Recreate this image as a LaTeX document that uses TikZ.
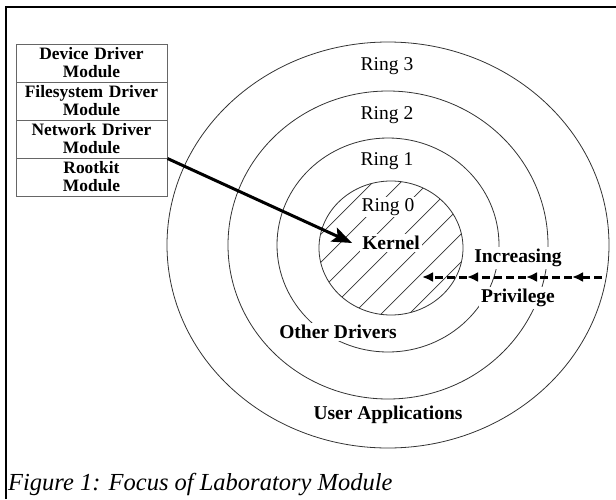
\documentclass[tikz,border=0pt]{standalone}
\usepackage{fontspec}
\setmainfont{Liberation Serif}
\usetikzlibrary{arrows.meta}

\begin{document}
\begin{tikzpicture}[x=1pt,y=-1pt,
  ring/.style={draw=black!80, line width=0.8pt},
  ringlabel/.style={font=\fontsize{19.5}{22}\selectfont, inner sep=1pt},
  boldlabel/.style={font=\fontsize{19.5}{22}\selectfont\bfseries, fill=white, inner sep=2pt},
  modbox/.style={draw=black!60, line width=1pt, minimum width=151pt, minimum height=38pt,
    text width=151pt, inner sep=0pt, align=center, font=\fontsize{17.4}{18}\selectfont\bfseries},
  frame/.style={line width=2.5pt},
  hatch/.style={draw=black!80, line width=0.7pt},
  bigarrow/.style={line width=3pt, -{Stealth[length=20pt,width=15pt,inset=4pt]}},
  privarrow/.style={line width=3pt, dash pattern=on 8pt off 4pt, -{Latex[length=11pt,width=10pt]}}
]
\useasboundingbox (0,0) rectangle (616,499);

% outer frame (top and left edges)
\draw[frame] (6,499) -- (6,7) -- (616,7);

% protection rings
\draw[ring] (388,245) ellipse [x radius=221pt, y radius=203pt];
\draw[ring] (388,245) ellipse [x radius=160pt, y radius=154pt];
\draw[ring] (388,245) ellipse [x radius=111pt, y radius=107pt];

% hatched kernel ring
\begin{scope}
  \clip (391,248) ellipse [x radius=72pt, y radius=67pt];
  \foreach \k in {-7,...,7}
    \draw[hatch] (391+\k*28-100, 348) -- ++(200,-200);
\end{scope}
\draw[ring] (391,248) ellipse [x radius=72pt, y radius=67pt];

% ring labels
\node[ringlabel] (r3) at (387,66) {Ring 3};
\node[ringlabel] (r2) at (387,115) {Ring 2};
\node[ringlabel] (r1) at (387,161) {Ring 1};
\node[ringlabel, fill=white] (r0) at (388,207) {Ring 0};

\node[boldlabel] (kernel) at (391,243) {Kernel};
\node[boldlabel] (other) at (338,332) {Other Drivers};
\node[boldlabel] (user) at (388,415) {User Applications};
\node[boldlabel] (inc) at (518,258) {Increasing};
\node[boldlabel] (priv) at (518,298) {Privilege};

% module stack
\node[modbox] (dev) at (91.5,63) {Device Driver\\Module};
\node[modbox] (fs) at (91.5,101) {Filesystem Driver\\Module};
\node[modbox] (net) at (91.5,139) {Network Driver\\Module};
\node[modbox] (root) at (91.5,177) {Rootkit\\Module};

% module injected into the kernel
\draw[bigarrow] (net.south east) -- ([xshift=-8pt]kernel.west);

% increasing privilege arrow
\coordinate (p0) at (602,277);
\coordinate (p1) at (572,277);
\coordinate (p2) at (526,277);
\coordinate (p3) at (467,277);
\coordinate (p4) at (422,277);
\draw[privarrow] (p0) -- (p1);
\draw[privarrow] (p1) -- (p2);
\draw[privarrow] (p2) -- (p3);
\draw[privarrow] (p3) -- (p4);

% caption
\node[anchor=base west, font=\fontsize{24.5}{28}\selectfont\itshape, inner sep=0pt] (cap)
  at (8,490) {Figure 1: Focus of Laboratory Module};
\end{tikzpicture}
\end{document}
